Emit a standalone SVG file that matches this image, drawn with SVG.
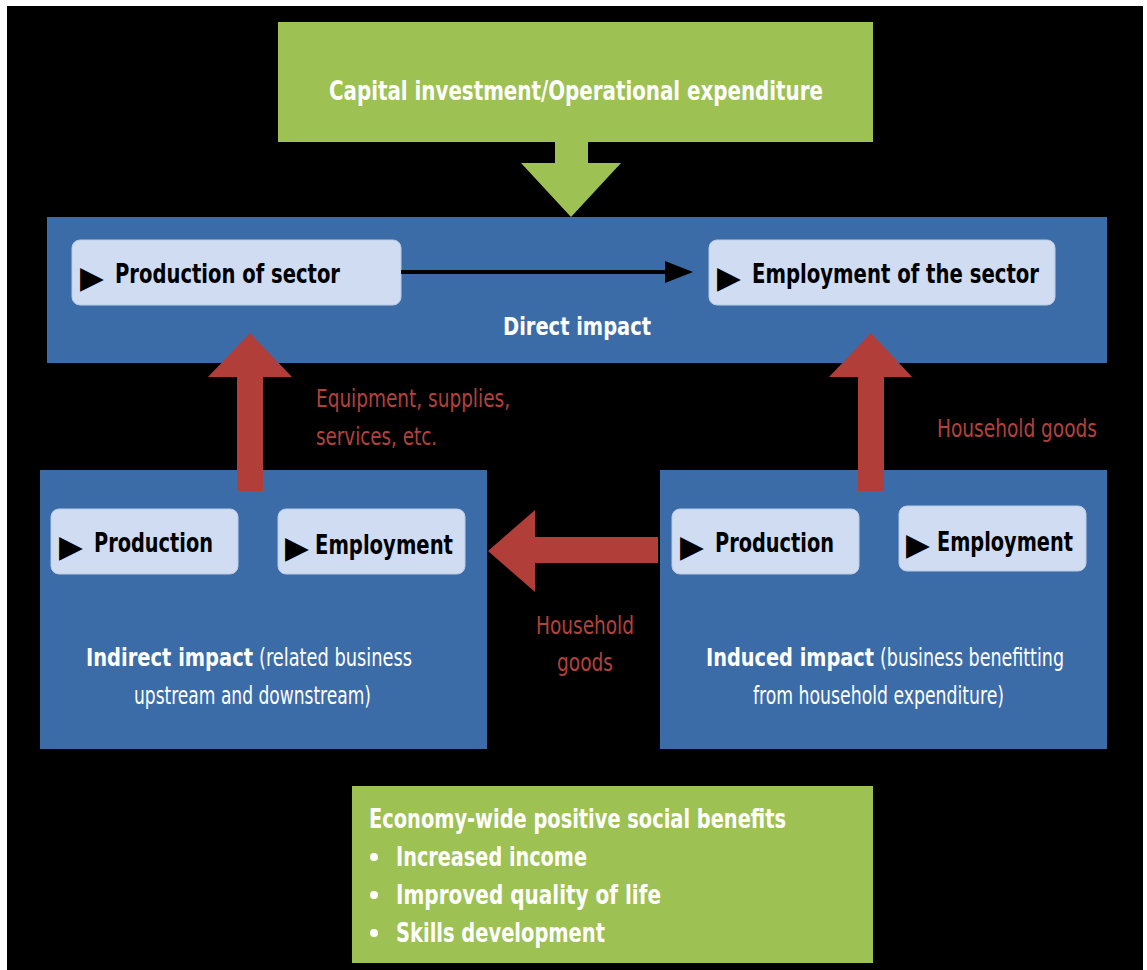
<svg xmlns="http://www.w3.org/2000/svg" width="1147" height="970" viewBox="0 0 1147 970">
<style>
.green{fill:#9DC153}
.blue{fill:#3B6CA8}
.light{fill:#CFDCF1;stroke:#B9CBE6;stroke-width:1}
.red{fill:#B23E3A}
.t{font-family:"DejaVu Sans Condensed","Liberation Sans Narrow","Liberation Sans",sans-serif}
.wb{fill:#FFFFFF;font-weight:bold}
.wr{fill:#FFFFFF;font-weight:normal}
.kb{fill:#000000;font-weight:bold}
.rr{fill:#B5413D;font-weight:normal}
.tri{font-family:"DejaVu Sans",sans-serif;fill:#000000;font-size:31px}
</style>
<rect x="0" y="0" width="1147" height="970" fill="#FFFFFF"/>
<rect x="7" y="6" width="1136" height="964" fill="#000000"/>

<g id="capital">
<rect class="green" x="278" y="22" width="595" height="120"/>
<text class="t wb" x="329" y="100" font-size="27" textLength="494" lengthAdjust="spacingAndGlyphs">Capital investment/Operational expenditure</text>
</g>

<g id="direct">
<rect class="blue" x="47" y="217" width="1060" height="146"/>
<text class="t wb" x="503" y="335" font-size="24" textLength="148" lengthAdjust="spacingAndGlyphs">Direct impact</text>
</g>

<g id="prod-sector">
<rect class="light" x="72" y="240" width="329" height="65" rx="8"/>
<text class="tri" x="80" y="288">▶</text>
<text class="t kb" x="115" y="283" font-size="27" textLength="225" lengthAdjust="spacingAndGlyphs">Production of sector</text>
</g>

<g id="emp-sector">
<rect class="light" x="709" y="240" width="346" height="65" rx="8"/>
<text class="tri" x="717" y="288">▶</text>
<text class="t kb" x="752" y="283" font-size="27" textLength="287" lengthAdjust="spacingAndGlyphs">Employment of the sector</text>
</g>

<g id="indirect">
<rect class="blue" x="40" y="470" width="447" height="279"/>
<text class="t wb" x="86" y="666" font-size="24" textLength="167" lengthAdjust="spacingAndGlyphs">Indirect impact</text>
<text class="t wr" x="259" y="666" font-size="24" textLength="153" lengthAdjust="spacingAndGlyphs">(related business</text>
<text class="t wr" x="134" y="704" font-size="24" textLength="237" lengthAdjust="spacingAndGlyphs">upstream and downstream)</text>
</g>

<g id="indirect-prod">
<rect class="light" x="51" y="509" width="187" height="65" rx="8"/>
<text class="tri" x="59" y="557">▶</text>
<text class="t kb" x="94" y="552" font-size="27" textLength="119" lengthAdjust="spacingAndGlyphs">Production</text>
</g>

<g id="indirect-emp">
<rect class="light" x="278" y="509" width="187" height="65" rx="8"/>
<text class="tri" x="285" y="558">▶</text>
<text class="t kb" x="315" y="554" font-size="27" textLength="138" lengthAdjust="spacingAndGlyphs">Employment</text>
</g>

<g id="induced">
<rect class="blue" x="660" y="470" width="447" height="279"/>
<text class="t wb" x="706" y="666" font-size="24" textLength="168" lengthAdjust="spacingAndGlyphs">Induced impact</text>
<text class="t wr" x="880" y="666" font-size="24" textLength="184" lengthAdjust="spacingAndGlyphs">(business benefitting</text>
<text class="t wr" x="753" y="704" font-size="24" textLength="251" lengthAdjust="spacingAndGlyphs">from household expenditure)</text>
</g>

<g id="induced-prod">
<rect class="light" x="672" y="509" width="187" height="65" rx="8"/>
<text class="tri" x="680" y="557">▶</text>
<text class="t kb" x="715" y="552" font-size="27" textLength="119" lengthAdjust="spacingAndGlyphs">Production</text>
</g>

<g id="induced-emp">
<rect class="light" x="899" y="506" width="187" height="65" rx="8"/>
<text class="tri" x="906" y="555">▶</text>
<text class="t kb" x="937" y="551" font-size="27" textLength="136" lengthAdjust="spacingAndGlyphs">Employment</text>
</g>

<g id="benefits">
<rect class="green" x="352" y="786" width="521" height="177"/>
<text class="t wb" x="369" y="828" font-size="26" textLength="417" lengthAdjust="spacingAndGlyphs">Economy-wide positive social benefits</text>
<circle cx="374" cy="857" r="4" fill="#FFFFFF"/>
<circle cx="374" cy="895" r="4" fill="#FFFFFF"/>
<circle cx="374" cy="933" r="4" fill="#FFFFFF"/>
<text class="t wb" x="396" y="866" font-size="26" textLength="191" lengthAdjust="spacingAndGlyphs">Increased income</text>
<text class="t wb" x="396" y="904" font-size="26" textLength="265" lengthAdjust="spacingAndGlyphs">Improved quality of life</text>
<text class="t wb" x="396" y="942" font-size="26" textLength="209" lengthAdjust="spacingAndGlyphs">Skills development</text>
</g>

<g id="connectors">
<polygon class="green" points="555,142 588,142 588,163 621,163 571,217 521,163 555,163"/>
<line x1="401" y1="272" x2="668" y2="272" stroke="#000000" stroke-width="4"/>
<polygon points="665,261 693,272 665,283" fill="#000000"/>
<polygon class="red" points="237,491 263,491 263,377 292,377 250,333 208,377 237,377"/>
<polygon class="red" points="858,491 884,491 884,377 912,377 871,333 829,377 858,377"/>
<polygon class="red" points="658,537 658,563 535,563 535,592 488,551 535,510 535,537"/>
<text class="t rr" x="316" y="407" font-size="24" textLength="194" lengthAdjust="spacingAndGlyphs">Equipment, supplies,</text>
<text class="t rr" x="316" y="445" font-size="24" textLength="121" lengthAdjust="spacingAndGlyphs">services, etc.</text>
<text class="t rr" x="937" y="437" font-size="24" textLength="160" lengthAdjust="spacingAndGlyphs">Household goods</text>
<text class="t rr" x="536" y="634" font-size="24" textLength="98" lengthAdjust="spacingAndGlyphs">Household</text>
<text class="t rr" x="557" y="671" font-size="24" textLength="56" lengthAdjust="spacingAndGlyphs">goods</text>
</g>
</svg>
